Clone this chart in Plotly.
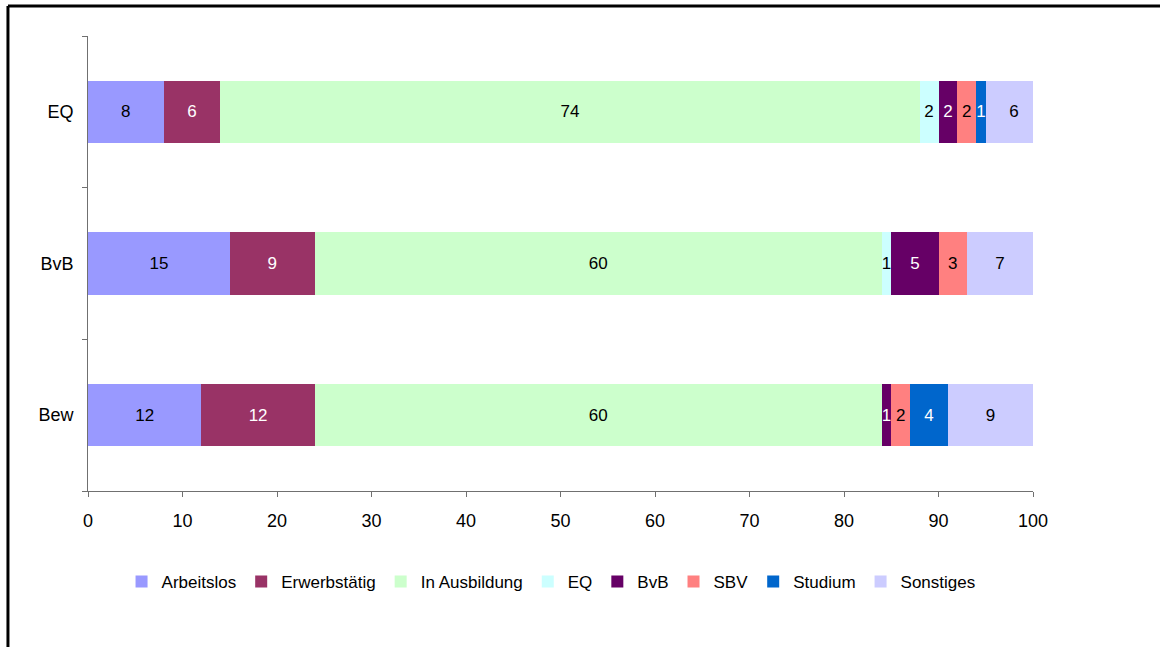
import plotly.graph_objects as go

categories = ["Bew", "BvB", "EQ"]
series_names = ["Arbeitslos", "Erwerbstätig", "In Ausbildung", "EQ", "BvB", "SBV", "Studium", "Sonstiges"]
arbeitslos = [12, 15, 8]
erwerbstaetig = [12, 9, 6]
in_ausbildung = [60, 60, 74]
eq = [0, 1, 2]
bvb = [1, 5, 2]
sbv = [2, 3, 2]
studium = [4, 0, 1]
sonstiges = [9, 7, 6]
x_ticks = [0, 10, 20, 30, 40, 50, 60, 70, 80, 90, 100]

series_values = [arbeitslos, erwerbstaetig, in_ausbildung, eq, bvb, sbv, studium, sonstiges]
colors = ["#9999FF", "#993366", "#CCFFCC", "#CCFFFF", "#660066", "#FF8080", "#0066CC", "#CCCCFF"]
text_colors = ["black", "white", "black", "black", "white", "black", "white", "black"]

font_family = "Liberation Sans, Arial, sans-serif"

fig = go.Figure()
for name, vals, col, tcol in zip(series_names, series_values, colors, text_colors):
    fig.add_trace(go.Bar(
        name=name,
        y=categories,
        x=vals,
        orientation="h",
        marker=dict(color=col, line=dict(width=0)),
        text=[str(v) if v else "" for v in vals],
        textposition="inside",
        insidetextanchor="middle",
        textangle=0,
        textfont=dict(color=tcol, size=17, family=font_family),
        hoverinfo="x+name",
    ))

fig.update_layout(
    barmode="stack",
    bargap=0.59,
    width=1160,
    height=647,
    margin=dict(l=88, r=127, t=36, b=156),
    paper_bgcolor="white",
    plot_bgcolor="white",
    font=dict(family=font_family, size=18, color="black"),
    uniformtext=dict(minsize=17, mode="show"),
    showlegend=True,
    legend=dict(
        orientation="h",
        x=0.49, xanchor="center",
        y=-0.2, yanchor="middle",
        font=dict(size=17, family=font_family),
        traceorder="normal",
        itemwidth=30,
    ),
    xaxis=dict(
        range=[0, 100],
        tickvals=x_ticks,
        ticks="outside",
        ticklen=5,
        tickcolor="#707070",
        showline=True,
        linecolor="#707070",
        linewidth=1,
        showgrid=False,
        zeroline=False,
        tickfont=dict(size=18),
        ticklabelstandoff=8,
        fixedrange=True,
    ),
    yaxis=dict(
        categoryorder="array",
        categoryarray=categories,
        ticks="outside",
        tickson="boundaries",
        ticklen=5,
        tickcolor="#707070",
        showline=True,
        linecolor="#707070",
        linewidth=1,
        showgrid=False,
        zeroline=False,
        tickfont=dict(size=18),
        ticklabelstandoff=10,
    ),
    shapes=[
        dict(type="line", xref="paper", yref="paper", x0=-0.0847, x1=1.2, y0=1.066, y1=1.066,
             line=dict(color="black", width=3)),
        dict(type="line", xref="paper", yref="paper", x0=-0.0847, x1=-0.0847, y0=1.066, y1=-0.4,
             line=dict(color="black", width=3)),
    ],
)

fig.write_html(
    "out.html",
    config={"displayModeBar": False},
    post_script="document.body.style.margin='0';document.body.style.overflow='hidden';",
)
